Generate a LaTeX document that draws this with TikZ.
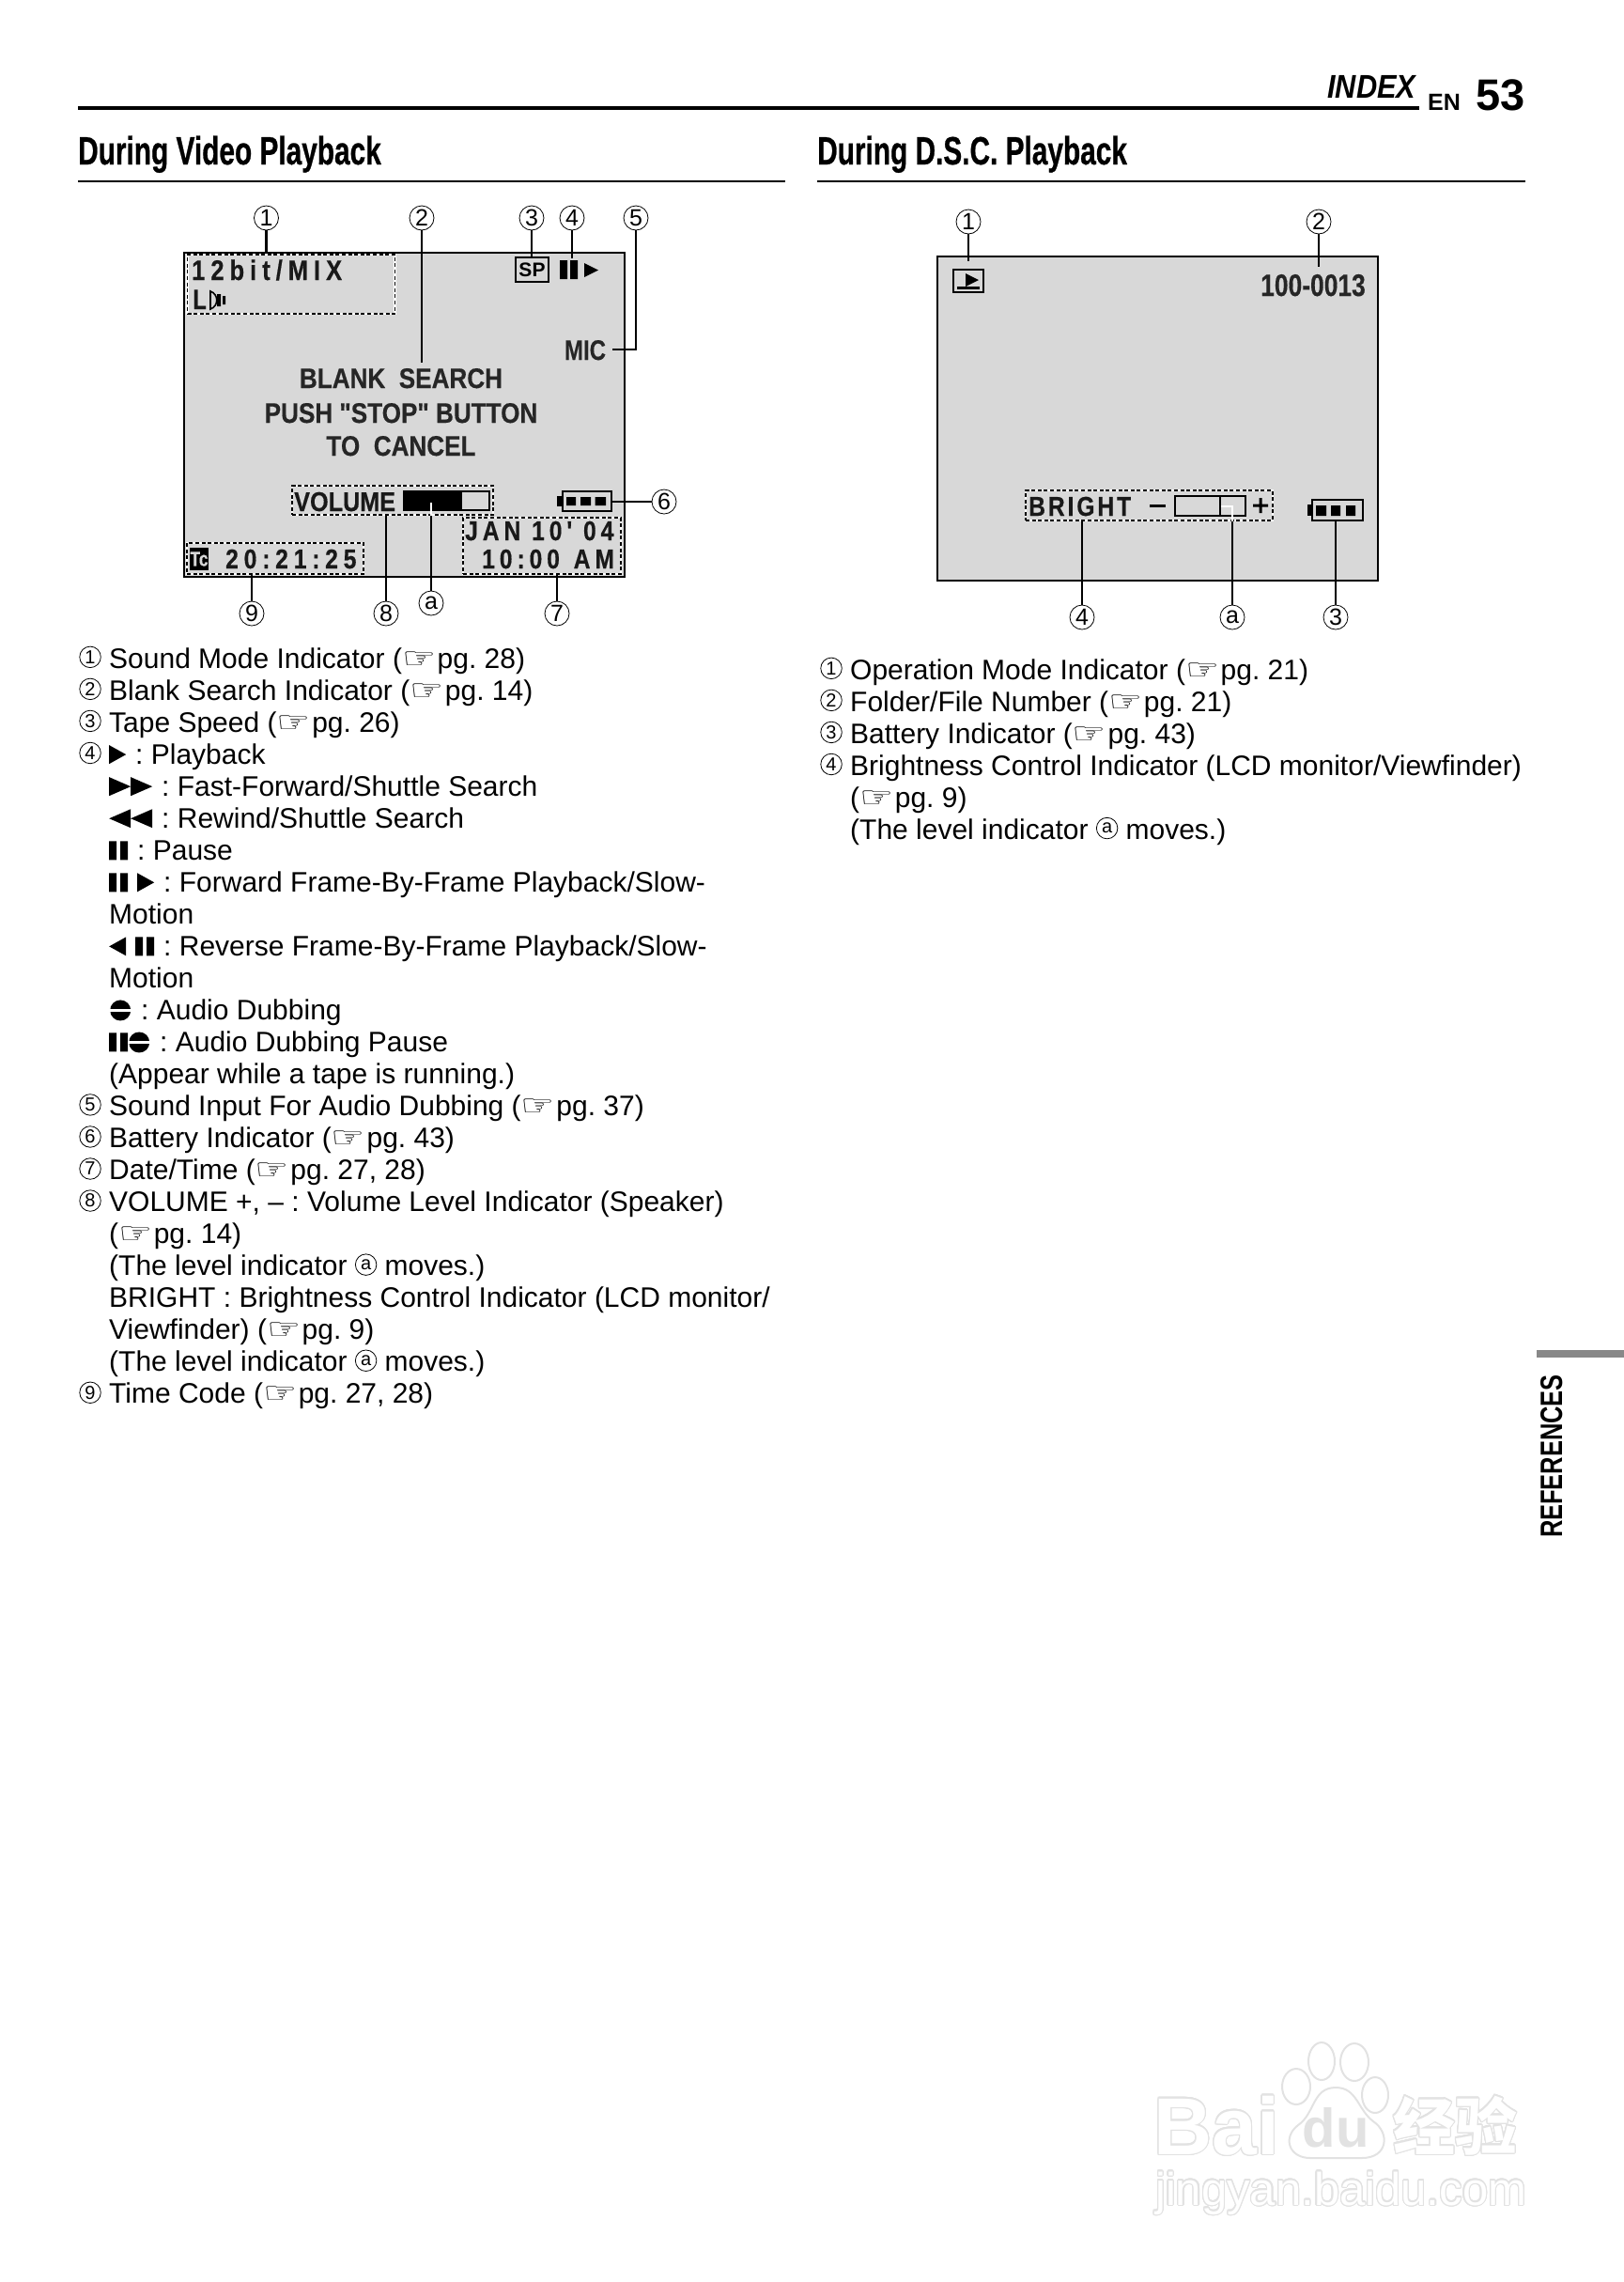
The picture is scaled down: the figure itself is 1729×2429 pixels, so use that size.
\documentclass[tikz,border=0pt]{standalone}
\usepackage{xcolor}
\usepackage{graphicx}
\usepackage{fontspec}
\usepackage{contour}
\usepackage{tikz}
\usetikzlibrary{positioning, calc}
\setmainfont{Liberation Sans}
\newfontfamily\symfont{DejaVu Sans}
\newfontfamily\headfont[FakeStretch=0.71,FakeBold=0.6]{Liberation Sans}
\newfontfamily\idxfont[FakeStretch=0.88]{Liberation Sans}
\newfontfamily\tabfont[FakeStretch=0.77]{Liberation Sans}
\newfontfamily\lcdfont[FakeStretch=0.8,FakeBold=0.3]{Liberation Sans}
\newfontfamily\lcdmid[FakeStretch=0.87,FakeBold=0.4]{Liberation Sans}
\newfontfamily\lcdwide[FakeStretch=0.85,LetterSpace=20,FakeBold=0.5]{Liberation Sans}
\newfontfamily\lcddate[FakeStretch=0.85,LetterSpace=17,FakeBold=0.5]{Liberation Sans}
\newfontfamily\lcdtight[FakeStretch=0.85,LetterSpace=10,FakeBold=0.5]{Liberation Sans}
\newfontfamily\cnfont{Noto Sans CJK SC}
\definecolor{lcdgray}{RGB}{216,216,216}
\definecolor{tabgray}{RGB}{136,136,136}
\definecolor{wmgray}{RGB}{226,226,226}
\contourlength{1.2pt}
\contournumber{24}
\frenchspacing
\newcommand{\bodyfont}{\fontsize{30}{34}\selectfont}
\newcommand{\encirc}[1]{\tikz[baseline=(enc.south)]\node[circle, draw, line width=0.8pt, minimum size=22.5pt, inner sep=0pt, font=\fontsize{20}{20}\selectfont] (enc) {#1};}
\newcommand{\lnum}[1]{\llap{\encirc{#1}\hspace{8.5pt}}}
\newcommand{\hand}{\scalebox{1.3}[1]{\symfont\fontsize{31}{31}\selectfont ☞}\hspace{1.5pt}}
\newcommand{\lvl}{\encirc{a}}
\newcommand{\icsp}{\hspace{10pt}}
\newcommand{\icplay}{\tikz[x=1pt,y=1pt,baseline=0pt]\fill (0,0) -- (18,10) -- (0,20) -- cycle;}
\newcommand{\icback}{\tikz[x=1pt,y=1pt,baseline=0pt]\fill (18,0) -- (0,10) -- (18,20) -- cycle;}
\newcommand{\icff}{\tikz[x=1pt,y=1pt,baseline=0pt]\fill (0,0) -- (23,10) -- (0,20) -- cycle (23,0) -- (46,10) -- (23,20) -- cycle;}
\newcommand{\icrew}{\tikz[x=1pt,y=1pt,baseline=0pt]\fill (23,0) -- (0,10) -- (23,20) -- cycle (46,0) -- (23,10) -- (46,20) -- cycle;}
\newcommand{\icpause}{\tikz[x=1pt,y=1pt,baseline=0pt]\fill (0,0) rectangle (8,20) (12,0) rectangle (20,20);}
\newcommand{\icdub}{\tikz[x=1pt,y=1pt,baseline=0pt]{\fill (11,10) circle (11); \fill[white] (-1,8.8) rectangle (23,11.2);}}
\tikzset{
  legend/.style={inner sep=0pt, anchor=base west, font=\bodyfont},
  callnum/.style={circle, draw, line width=0.8pt, minimum size=26pt, inner sep=0pt, font=\fontsize{25}{25}\selectfont},
  lead/.style={line width=2.6pt},
  dashbox/.style={draw=black, line width=1.7pt, dash pattern=on 4pt off 2.6pt,
    preaction={draw=white, solid, line width=2.4pt}, inner sep=0pt},
  lcdtext/.style={inner sep=0pt, anchor=base west, text=black!90},
  lcdcenter/.style={inner sep=0pt, anchor=base, font=\lcdmid\bfseries\fontsize{30}{30}\selectfont, text=black!85},
  screen/.style={draw=black, line width=2.6pt, fill=lcdgray},
  wmline/.style={draw=wmgray, line width=2pt, fill=white}
}
\begin{document}
\begin{tikzpicture}[x=1pt,y=-1pt]
  \useasboundingbox (0,0) rectangle (1729,2429);
  % page head
  \draw[line width=4.5pt] (83,115) -- (1511,115);
  \node[inner sep=0pt, anchor=base west, font=\idxfont\bfseries\itshape\fontsize{35}{35}\selectfont] (idxword) at (1413,104) {INDEX};
  \node[inner sep=0pt, anchor=base west, font=\bfseries\fontsize{25}{25}\selectfont] (enword) at (1520,117) {EN};
  \node[inner sep=0pt, anchor=base west, font=\bfseries\fontsize{47}{47}\selectfont] (pagenum) at (1571,117) {53};
  \node[inner sep=0pt, anchor=base west, font=\headfont\bfseries\fontsize{42}{42}\selectfont] (headl) at (83,175) {During Video Playback};
  \node[inner sep=0pt, anchor=base west, font=\headfont\bfseries\fontsize{42}{42}\selectfont] (headr) at (870,175) {During D.S.C. Playback};
  \draw[line width=2pt] (83,193) -- (836,193);
  \draw[line width=2pt] (870,193) -- (1624,193);
  % side tab
  \fill[tabgray] (1636,1437) rectangle (1729,1445);
  \node[rotate=90, inner sep=0pt, anchor=base west, font=\tabfont\bfseries\fontsize{33}{33}\selectfont] (tabword) at (1663,1637) {REFERENCES};

  % video playback screen
  \node[screen, minimum width=469pt, minimum height=345pt, inner sep=0pt] (vscreen) at (430.5,441.5) {};
  \node[dashbox, minimum width=221pt, minimum height=63pt] (sndbox) at (310,302.5) {};
  \node[dashbox, minimum width=214pt, minimum height=31pt] (volbox) at (418,532.5) {};
  \node[dashbox, minimum width=168pt, minimum height=60pt] (datebox) at (577,581) {};
  \node[dashbox, minimum width=188pt, minimum height=33pt] (tcbox) at (293,594.5) {};
  \node[lcdtext, font=\lcdwide\bfseries\fontsize{30}{30}\selectfont] (bitword) at (204,298) {12bit/MIX};
  \node[lcdtext, font=\lcdfont\bfseries\fontsize{30}{30}\selectfont] (lword) at (205,329) {L};
  \draw[line width=1.6pt, fill=lcdgray] (224,310) .. controls (233,313) and (233,326) .. (224,329) -- cycle;
  \fill (231,313) rectangle (235,326) (237,315) rectangle (240,324);
  \node[draw, line width=2.4pt, fill=lcdgray, inner sep=0pt, minimum width=35pt, minimum height=26pt, font=\bfseries\fontsize{21}{21}\selectfont] (spbox) at (566.5,287) {SP};
  \fill (596,277) rectangle (604,297) (607,277) rectangle (615,297);
  \fill (622,280) -- (637,287.5) -- (622,295) -- cycle;
  \node[lcdcenter, font=\lcdfont\bfseries\fontsize{30}{30}\selectfont] (micword) at (623,383) {MIC};
  \node[lcdcenter] (blank1) at (427,413) {BLANK\ \ SEARCH};
  \node[lcdcenter] (blank2) at (427,450) {PUSH "STOP" BUTTON};
  \node[lcdcenter] (blank3) at (427,485) {TO\ \ CANCEL};
  \node[lcdtext, font=\lcdmid\bfseries\fontsize{29}{29}\selectfont] (volword) at (313,544) {VOLUME};
  \node[draw, line width=2pt, fill=lcdgray, minimum width=91pt, minimum height=20pt, inner sep=0pt] (volbar) at (475,533) {};
  \fill (429.5,523) rectangle (492,543);
  \node[draw, line width=2.4pt, fill=lcdgray, minimum width=52pt, minimum height=21pt, inner sep=0pt] (vbatt) at (625,533.5) {};
  \fill (593,528) rectangle (599,539);
  \fill (603,529) rectangle (613,538) (618,529) rectangle (629,538) (633.5,529) rectangle (645,538);
  \node[lcdtext, font=\lcddate\bfseries\fontsize{29}{29}\selectfont] (dateword) at (495,575) {JAN 10' 04};
  \node[lcdtext, font=\lcddate\bfseries\fontsize{29}{29}\selectfont] (timeword) at (513,605) {10:00\ \hspace{3pt}AM};
  \node[fill=black, text=lcdgray, inner sep=0pt, minimum width=18pt, minimum height=24pt, font=\lcdfont\bfseries\fontsize{22}{22}\selectfont] (tcicon) at (212,595) {Tc};
  \node[lcdtext, font=\lcdwide\bfseries\fontsize{29}{29}\selectfont] (tcword) at (240,605) {20:21:25};

  \node[callnum] (v1) at (283.5,232) {1};
  \node[callnum] (v2) at (449,232) {2};
  \node[callnum] (v3) at (566,232) {3};
  \node[callnum] (v4) at (609,232) {4};
  \node[callnum] (v5) at (677,232) {5};
  \node[callnum] (v6) at (707,534) {6};
  \node[callnum] (v7) at (593,653) {7};
  \node[callnum] (v8) at (411,653) {8};
  \node[callnum] (v9) at (268,653) {9};
  \node[callnum] (va) at (459,642) {a};
  \coordinate (v2end) at (449,386);
  \coordinate (v4end) at (609,275);
  \coordinate (v5end) at (652,372);
  \coordinate (vaend) at (459,535);
  \draw[lead] (v1) -- (v1 |- sndbox.north);
  \draw[lead] (v2) -- (v2end);
  \draw[lead] (v3) -- (v3 |- spbox.north);
  \draw[lead] (v4) -- (v4end);
  \draw[lead] (v5) |- (v5end);
  \draw[lead] (v6) -- (vbatt.east |- v6);
  \draw[lead] (v7) -- (v7 |- datebox.south);
  \draw[lead] (v8) -- (v8 |- volbox.south);
  \draw[lead] (v9) -- (v9 |- tcbox.south);
  \draw[lead] (va) -- (va |- volbox.south);
  \draw[lead, white] (va |- volbox.south) -- (vaend);

  % D.S.C. playback screen
  \node[screen, minimum width=469pt, minimum height=345pt, inner sep=0pt] (dscreen) at (1232.5,445.5) {};
  \node[draw, line width=2.4pt, minimum width=32pt, minimum height=24pt, inner sep=0pt] (modebox) at (1031,299) {};
  \fill (1028,291) -- (1042,298) -- (1028,305) -- cycle;
  \fill (1019,305) rectangle (1043,307.5);
  \node[inner sep=0pt, anchor=base east, font=\lcdfont\bfseries\fontsize{33}{33}\selectfont, text=black!85] (fileword) at (1454,315) {100-0013};
  \node[dashbox, minimum width=263pt, minimum height=32pt] (brbox) at (1223.5,538) {};
  \node[lcdtext, font=\lcdtight\bfseries\fontsize{29}{29}\selectfont] (brword) at (1095,549) {BRIGHT};
  \fill (1224,536.5) rectangle (1241,539.5);
  \node[draw, line width=2.2pt, fill=lcdgray, minimum width=75pt, minimum height=21pt, inner sep=0pt] (brbar) at (1288.5,538.5) {};
  \draw[line width=2.2pt] (1299,528) -- (1299,549);
  \fill (1334,536.5) rectangle (1350,539.5) (1340.5,530) rectangle (1343.5,546);
  \node[draw, line width=2.4pt, fill=lcdgray, minimum width=54pt, minimum height=22pt, inner sep=0pt] (dbatt) at (1424,543) {};
  \fill (1392,537) rectangle (1398,549);
  \fill (1401,538) rectangle (1412,549) (1417,538) rectangle (1427,549) (1433,538) rectangle (1443,549);
  \node[callnum] (d1) at (1031,236) {1};
  \node[callnum] (d2) at (1404,236) {2};
  \node[callnum] (d3) at (1422,657) {3};
  \node[callnum] (d4) at (1152,657) {4};
  \node[callnum] (da) at (1312,657) {a};
  \coordinate (d1end) at (1031,278);
  \coordinate (d2end) at (1404,284);
  \coordinate (daend) at (1300,539);
  \draw[lead] (d1) -- (d1end);
  \draw[lead] (d2) -- (d2end);
  \draw[lead] (d3) -- (d3 |- dbatt.south);
  \draw[lead] (d4) -- (d4 |- brbox.south);
  \draw[line width=1.8pt] (da) -- (da |- brbox.south);
  \draw[line width=2pt, white] (da |- brbox.south) |- (daend);

  % legends
  \foreach \i/\txt in {
    0/{\lnum{1}Sound Mode Indicator (\hand pg. 28)},
    1/{\lnum{2}Blank Search Indicator (\hand pg. 14)},
    2/{\lnum{3}Tape Speed (\hand pg. 26)},
    3/{\lnum{4}\icplay\icsp: Playback},
    4/{\icff\icsp: Fast-Forward/Shuttle Search},
    5/{\icrew\icsp: Rewind/Shuttle Search},
    6/{\icpause\icsp: Pause},
    7/{\icpause\icsp\icplay\icsp: Forward Frame-By-Frame Playback/Slow-},
    8/{Motion},
    9/{\icback\icsp\icpause\icsp: Reverse Frame-By-Frame Playback/Slow-},
    10/{Motion},
    11/{\icdub\icsp: Audio Dubbing},
    12/{\icpause\icdub\icsp: Audio Dubbing Pause},
    13/{(Appear while a tape is running.)},
    14/{\lnum{5}Sound Input For Audio Dubbing (\hand pg. 37)},
    15/{\lnum{6}Battery Indicator (\hand pg. 43)},
    16/{\lnum{7}Date/Time (\hand pg. 27, 28)},
    17/{\lnum{8}VOLUME +, -- : Volume Level Indicator (Speaker)},
    18/{(\hand pg. 14)},
    19/{(The level indicator \lvl\ moves.)},
    20/{BRIGHT : Brightness Control Indicator (LCD monitor/},
    21/{Viewfinder) (\hand pg. 9)},
    22/{(The level indicator \lvl\ moves.)},
    23/{\lnum{9}Time Code (\hand pg. 27, 28)}}
    \node[legend] (lgl\i) at (116,{711+34.04*\i}) {\txt};
  \foreach \i/\txt in {
    0/{\lnum{1}Operation Mode Indicator (\hand pg. 21)},
    1/{\lnum{2}Folder/File Number (\hand pg. 21)},
    2/{\lnum{3}Battery Indicator (\hand pg. 43)},
    3/{\lnum{4}Brightness Control Indicator (LCD monitor/Viewfinder)},
    4/{(\hand pg. 9)},
    5/{(The level indicator \lvl\ moves.)}}
    \node[legend] (lgr\i) at (905,{723+34.04*\i}) {\txt};

  % watermark
  \draw[wmline] (1380,2221) ellipse (15 and 19);
  \draw[wmline] (1407,2194) ellipse (14 and 20);
  \draw[wmline] (1442,2195) ellipse (15 and 20);
  \draw[wmline] (1464,2230) ellipse (14 and 19);
  \draw[wmline] (1422,2222) .. controls (1397,2222) and (1400,2250) .. (1382,2262) .. controls (1365,2275) and (1372,2297) .. (1395,2297) -- (1450,2297) .. controls (1478,2297) and (1480,2270) .. (1462,2258) .. controls (1445,2245) and (1445,2222) .. (1422,2222) -- cycle;
  \node[inner sep=0pt, anchor=base west, text=white, font=\bfseries\fontsize{86}{86}\selectfont] (wmbai) at (1228,2293) {\contour{wmgray}{Bai}};
  \node[inner sep=0pt, anchor=base, text=wmgray, font=\bfseries\fontsize{58}{58}\selectfont] (wmdu) at (1422,2285) {du};
  \node[inner sep=0pt, anchor=base west, text=white, font=\cnfont\bfseries\fontsize{66}{66}\selectfont] (wmcn) at (1483,2288) {\contour{wmgray}{经验}};
  \node[inner sep=0pt, anchor=base west, text=white, font=\fontsize{49}{49}\selectfont] (wmurl) at (1230,2347) {\contour{wmgray}{jingyan.baidu.com}};
\end{tikzpicture}
\end{document}
